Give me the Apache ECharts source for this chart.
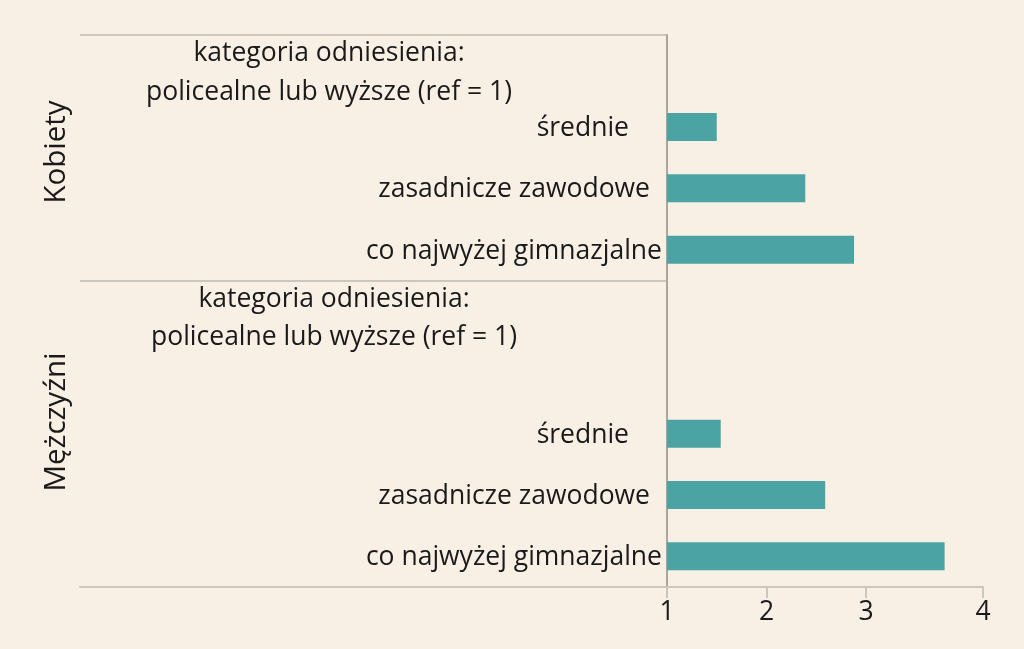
<!DOCTYPE html>
<html><head><meta charset="utf-8">
<script src="https://cdn.jsdelivr.net/npm/echarts@6/dist/echarts.min.js"></script>
<style>html,body{margin:0;padding:0;background:#f9f0e5}#c{width:1024px;height:649px}</style>
</head><body><div id="c"></div>
<script>
// ---- data ----
const categoryIds = ['K_ref','K_sr','K_zas','K_gim','M_ref','M_blank','M_sr','M_zas','M_gim'];
const categoryLabels = [
  'kategoria odniesienia:\npolicealne lub wyższe (ref = 1)',
  'średnie',
  'zasadnicze zawodowe',
  'co najwyżej gimnazjalne',
  'kategoria odniesienia:\npolicealne lub wyższe (ref = 1)',
  '',
  'średnie',
  'zasadnicze zawodowe',
  'co najwyżej gimnazjalne'
];
const values = [null, 1.50, 2.39, 2.88, null, null, 1.54, 2.59, 3.79];
const tickValues = [1, 2, 3];
const tickLabels = ['1', '2', '3', '4'];
const panelLabels = ['Kobiety', 'Mężczyźni'];

// ---- style / layout ----
const FONT = 'Open Sans';
const FS = 26.5;
const PFS = 29.5;
const TXT = '#1a1a1a';
const AXIS_MAX = 4.176;
const labelStyleKeys = [['k1','k2'], 's', 'z', 'g', ['m1','m2'], 'g', 's', 'z', 'g'];
const base = {fontFamily: FONT, fontSize: FS, color: TXT};
const rich = {
  g: Object.assign({}, base, {padding: [3, 0, 0, 0]}),
  z: Object.assign({}, base, {padding: [3, 12, 0, 0]}),
  s: Object.assign({}, base, {padding: [3, 33, 0, 0]}),
  k1: Object.assign({}, base, {width: 400, align: 'center', lineHeight: 53, padding: [15, 133, 0, 0]}),
  k2: Object.assign({}, base, {width: 400, align: 'center', lineHeight: 39, padding: [0, 133, 0, 0]}),
  m1: Object.assign({}, base, {width: 400, align: 'center', lineHeight: 53, padding: [15, 128, 0, 0]}),
  m2: Object.assign({}, base, {width: 400, align: 'center', lineHeight: 39, padding: [0, 128, 0, 0]})
};
const xCustom = tickValues.concat([AXIS_MAX]);
const LINE = '#cbc6be';

const chart = echarts.init(document.getElementById('c'));
chart.setOption({
  backgroundColor: '#f9f0e5',
  animation: false,
  textStyle: {fontFamily: FONT},
  grid: [
    {left: 667, right: 41, top: 35, bottom: 62, containLabel: false},
    {left: 80, right: 357, top: 35, bottom: 62, containLabel: false}
  ],
  xAxis: [
    {
      gridIndex: 0, type: 'value', min: 1, max: AXIS_MAX,
      axisLine: {show: true, lineStyle: {color: LINE, width: 2}},
      axisTick: {show: true, length: 11, customValues: xCustom, lineStyle: {color: LINE, width: 2}},
      axisLabel: {
        customValues: xCustom, margin: 12, fontFamily: FONT, fontSize: FS, color: TXT,
        formatter: function (v) {
          let i = xCustom.findIndex(function (t) { return Math.abs(t - v) < 1e-6; });
          return i >= 0 ? tickLabels[i] : '';
        }
      },
      splitLine: {show: false}
    },
    {
      gridIndex: 1, type: 'value', min: 0, max: 1,
      axisLine: {show: true, onZero: false, lineStyle: {color: LINE, width: 2}},
      axisTick: {show: false}, axisLabel: {show: false}, splitLine: {show: false}
    }
  ],
  yAxis: [
    {
      gridIndex: 0, type: 'category', inverse: true, data: categoryIds,
      axisLine: {show: true, lineStyle: {color: '#aaa59d', width: 2}},
      axisTick: {show: false},
      axisLabel: {
        margin: 5, interval: 0, rich: rich, fontFamily: FONT, fontSize: FS, color: TXT,
        formatter: function (v, idx) {
          const i = categoryIds.indexOf(v);
          const lab = categoryLabels[i];
          if (!lab) return '';
          const key = labelStyleKeys[i];
          if (Array.isArray(key)) {
            return lab.split('\n').map(function (l, j) { return '{' + key[j] + '|' + l + '}'; }).join('\n');
          }
          return '{' + key + '|' + lab + '}';
        }
      },
      splitLine: {show: false}
    },
    {
      gridIndex: 1, type: 'category', inverse: true, data: categoryIds,
      axisLine: {show: false}, axisTick: {show: false}, axisLabel: {show: false},
      splitLine: {show: true, interval: function (index) { return index === 0 || index === 4; },
        lineStyle: {color: LINE, width: 2}}
    }
  ],
  series: [{
    type: 'bar', xAxisIndex: 0, yAxisIndex: 0,
    data: values, barWidth: 28,
    itemStyle: {color: '#4ca3a3'},
    emphasis: {disabled: true}
  }],
  graphic: [
    {type: 'text', x: 57, y: 152, rotation: Math.PI / 2,
      style: {text: panelLabels[0], font: PFS + 'px "' + FONT + '"', fill: TXT, align: 'center', verticalAlign: 'middle'}},
    {type: 'text', x: 57, y: 422, rotation: Math.PI / 2,
      style: {text: panelLabels[1], font: PFS + 'px "' + FONT + '"', fill: TXT, align: 'center', verticalAlign: 'middle'}}
  ]
});
</script>
</body></html>
